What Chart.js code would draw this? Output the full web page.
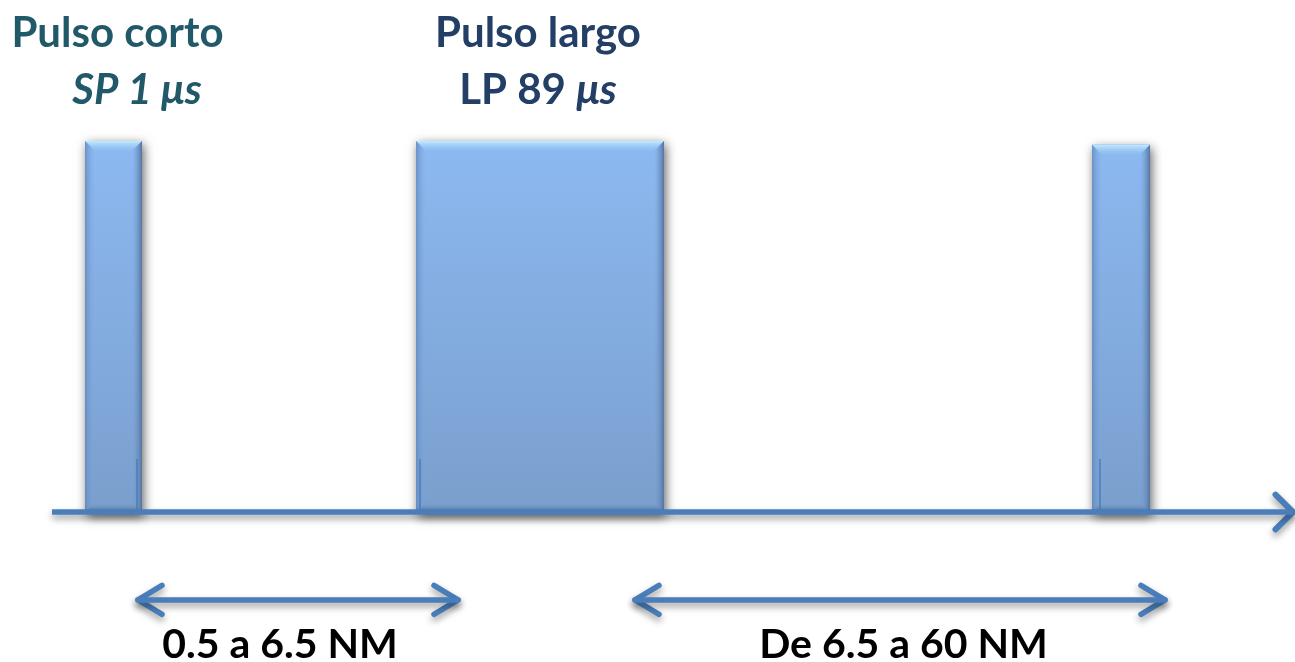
<!DOCTYPE html>
<html>
<head>
<meta charset="utf-8">
<script src="https://cdn.jsdelivr.net/npm/chart.js@4.4.0/dist/chart.umd.min.js"></script>
<style>
  html, body { margin: 0; padding: 0; background: #ffffff; }
  #wrap { width: 1295px; height: 662px; position: relative; }
</style>
</head>
<body>
<div id="wrap"><canvas id="c"></canvas></div>
<script>
// Pulse train on a time axis (arbitrary time units), amplitude normalised to 1
const pulseStart = [8.5, 41.6, 109.2];
const pulseEnd   = [14.2, 66.4, 115.0];
const pulseLevel = [1, 1, 0.99];

// Thin reference ticks inside each pulse
const markerX = [13.7, 42.0, 110.0];
const markerLevel = 0.143;

// Time axis extent
const axisFrom = 5.2;
const axisTo = 129.3;

// Range arrows under the axis and their captions
const rangeFrom = [13.8, 63.5];
const rangeTo   = [45.8, 116.5];
const rangeLevel = -0.237;
const rangeLabels = ['0.5 a 6.5 NM', 'De 6.5 a 60 NM'];
const rangeLabelX = [28.0, 90.35];
const rangeLabelLevel = -0.3935;

// Pulse captions above the pulses
const titleLines = ['Pulso corto', 'Pulso largo'];
const titleX = [11.75, 53.8];
const titleLevel = 1.2534;
const subtitlePlain  = ['', 'LP 89 '];
const subtitleItalic = ['SP 1 \u03BCs', '\u03BCs'];
const subtitleX = [13.7, 53.8];
const subtitleLevel = 1.0997;
const titleColors = ['#215968', '#243f66'];

const BLUE = '#4a7ebb';
const FONT = 'Lato, "Open Sans", sans-serif';

function pulseFill(context) {
  const chart = context.chart;
  const { ctx, chartArea, scales } = chart;
  if (!chartArea) return '#86aee6';
  const yTop = scales.y.getPixelForValue(1);
  const yBot = scales.y.getPixelForValue(0);
  const g = ctx.createLinearGradient(0, yTop, 0, yBot);
  g.addColorStop(0, '#8cb9f1');
  g.addColorStop(1, '#7a9fcd');
  return g;
}

const datasets = [];

// Pulses
pulseStart.forEach((s, i) => {
  const e = pulseEnd[i], h = pulseLevel[i];
  datasets.push({
    label: 'pulse' + i,
    pulseIndex: i,
    data: [{ x: s, y: 0 }, { x: s, y: h }, { x: e, y: h }, { x: e, y: 0 }],
    fill: 'origin',
    backgroundColor: pulseFill,
    borderWidth: 0,
    borderColor: 'rgba(0,0,0,0)',
    pointRadius: 0,
    order: 5
  });
});

// Reference ticks
markerX.forEach((m, i) => {
  datasets.push({
    label: 'marker' + i,
    data: [{ x: m, y: 0 }, { x: m, y: markerLevel }],
    borderColor: BLUE,
    borderWidth: 1.5,
    pointRadius: 0,
    fill: false,
    order: 2
  });
});

// Time axis with open arrow head
datasets.push({
  label: 'axis',
  shadow: true,
  data: [{ x: axisFrom, y: 0 }, { x: axisTo, y: 0 }],
  borderColor: BLUE,
  borderWidth: 5.5,
  borderCapStyle: 'butt',
  pointRadius: 0,
  fill: false,
  order: 0
});
datasets.push({
  label: 'axisHead',
  shadow: true,
  data: [{ x: axisTo - 1.75, y: 0.047 }, { x: axisTo, y: 0 }, { x: axisTo - 1.75, y: -0.047 }],
  borderColor: BLUE,
  borderWidth: 6,
  borderCapStyle: 'round',
  borderJoinStyle: 'round',
  pointRadius: 0,
  fill: false,
  order: 0
});

// Double-headed range arrows
const headDx = 2.4, headDy = 0.039;
rangeFrom.forEach((a, i) => {
  const b = rangeTo[i], y = rangeLevel;
  const common = {
    shadow: true,
    borderColor: BLUE,
    borderWidth: 5.5,
    borderCapStyle: 'round',
    borderJoinStyle: 'round',
    pointRadius: 0,
    fill: false,
    order: 0
  };
  datasets.push(Object.assign({ label: 'range' + i, data: [{ x: a, y }, { x: b, y }] }, common));
  datasets.push(Object.assign({ label: 'rangeL' + i,
    data: [{ x: a + headDx, y: y + headDy }, { x: a, y }, { x: a + headDx, y: y - headDy }] }, common));
  datasets.push(Object.assign({ label: 'rangeR' + i,
    data: [{ x: b - headDx, y: y + headDy }, { x: b, y }, { x: b - headDx, y: y - headDy }] }, common));
});

function pulseBox(chart, i) {
  const x = chart.scales.x, y = chart.scales.y;
  return {
    L: x.getPixelForValue(pulseStart[i]),
    R: x.getPixelForValue(pulseEnd[i]),
    T: y.getPixelForValue(pulseLevel[i]),
    B: y.getPixelForValue(0)
  };
}

function poly(ctx, pts, fill) {
  ctx.beginPath();
  ctx.moveTo(pts[0][0], pts[0][1]);
  for (let k = 1; k < pts.length; k++) ctx.lineTo(pts[k][0], pts[k][1]);
  ctx.closePath();
  ctx.fillStyle = fill;
  ctx.fill();
}

const pulseDecor = {
  id: 'pulseDecor',
  beforeDatasetsDraw(chart) {
    // soft drop shadow behind every pulse
    const ctx = chart.ctx;
    pulseStart.forEach((_, i) => {
      const { L, R, T, B } = pulseBox(chart, i);
      ctx.save();
      ctx.shadowColor = 'rgba(0,0,0,0.6)';
      ctx.shadowBlur = 10;
      ctx.shadowOffsetX = 1.5;
      ctx.shadowOffsetY = 3;
      ctx.fillStyle = '#7fa6d8';
      ctx.fillRect(L, T, R - L, B - T + 2);
      ctx.restore();
    });
  },
  beforeDatasetDraw(chart, args) {
    const ds = chart.data.datasets[args.index];
    if (ds.shadow) {
      const ctx = chart.ctx;
      ctx.save();
      ctx.shadowColor = 'rgba(0,0,0,0.4)';
      ctx.shadowBlur = 7;
      ctx.shadowOffsetY = 4;
    }
  },
  afterDatasetDraw(chart, args) {
    const ds = chart.data.datasets[args.index];
    const ctx = chart.ctx;
    if (ds.shadow) ctx.restore();
    if (ds.pulseIndex === undefined) return;
    // bevelled edges of the pulse
    const { L, R, T, B } = pulseBox(chart, ds.pulseIndex);
    const b = 10;
    ctx.save();
    let g = ctx.createLinearGradient(0, T, 0, T + b);
    g.addColorStop(0, '#c2ecff');
    g.addColorStop(1, 'rgba(150,196,244,0.2)');
    poly(ctx, [[L, T], [R, T], [R - b, T + b], [L + b, T + b]], g);

    g = ctx.createLinearGradient(L, 0, L + b, 0);
    g.addColorStop(0, 'rgba(96,136,190,0.8)');
    g.addColorStop(1, 'rgba(130,170,225,0)');
    poly(ctx, [[L, T], [L + b, T + b], [L + b, B - b], [L, B]], g);

    g = ctx.createLinearGradient(R, 0, R - b, 0);
    g.addColorStop(0, 'rgba(84,116,162,1)');
    g.addColorStop(1, 'rgba(120,160,210,0)');
    poly(ctx, [[R, T], [R, B], [R - b, B - b], [R - b, T + b]], g);

    g = ctx.createLinearGradient(0, B, 0, B - b);
    g.addColorStop(0, 'rgba(86,118,160,0.9)');
    g.addColorStop(1, 'rgba(120,160,205,0)');
    poly(ctx, [[L, B], [R, B], [R - b, B - b], [L + b, B - b]], g);
    ctx.restore();
  },
  afterDraw(chart) {
    const ctx = chart.ctx;
    const x = chart.scales.x, y = chart.scales.y;
    ctx.save();
    ctx.textBaseline = 'alphabetic';

    // pulse captions
    titleLines.forEach((t, i) => {
      ctx.fillStyle = titleColors[i];
      ctx.font = 'bold 42px ' + FONT;
      ctx.textAlign = 'center';
      ctx.fillText(t, x.getPixelForValue(titleX[i]), y.getPixelForValue(titleLevel));

      const plainFont = 'bold 42px ' + FONT;
      const italFont = 'italic bold 42px ' + FONT;
      ctx.font = plainFont;
      const w1 = ctx.measureText(subtitlePlain[i]).width;
      ctx.font = italFont;
      const w2 = ctx.measureText(subtitleItalic[i]).width;
      let cx = x.getPixelForValue(subtitleX[i]) - (w1 + w2) / 2;
      const by = y.getPixelForValue(subtitleLevel);
      ctx.textAlign = 'left';
      ctx.font = plainFont;
      ctx.fillText(subtitlePlain[i], cx, by);
      ctx.font = italFont;
      ctx.fillText(subtitleItalic[i], cx + w1, by);
    });

    // range captions
    ctx.fillStyle = '#000000';
    ctx.font = 'bold 41px ' + FONT;
    ctx.textAlign = 'center';
    rangeLabels.forEach((t, i) => {
      ctx.fillText(t, x.getPixelForValue(rangeLabelX[i]), y.getPixelForValue(rangeLabelLevel));
    });
    ctx.restore();
  }
};

new Chart(document.getElementById('c'), {
  type: 'line',
  data: { datasets },
  options: {
    responsive: true,
    maintainAspectRatio: false,
    animation: false,
    layout: { padding: 0 },
    elements: { line: { tension: 0 } },
    scales: {
      x: { type: 'linear', min: 0, max: 129.5, display: false },
      y: { type: 'linear', min: -0.4043, max: 1.3801, display: false }
    },
    plugins: {
      legend: { display: false },
      tooltip: { enabled: false },
      title: { display: false }
    }
  },
  plugins: [pulseDecor]
});
</script>
</body>
</html>
